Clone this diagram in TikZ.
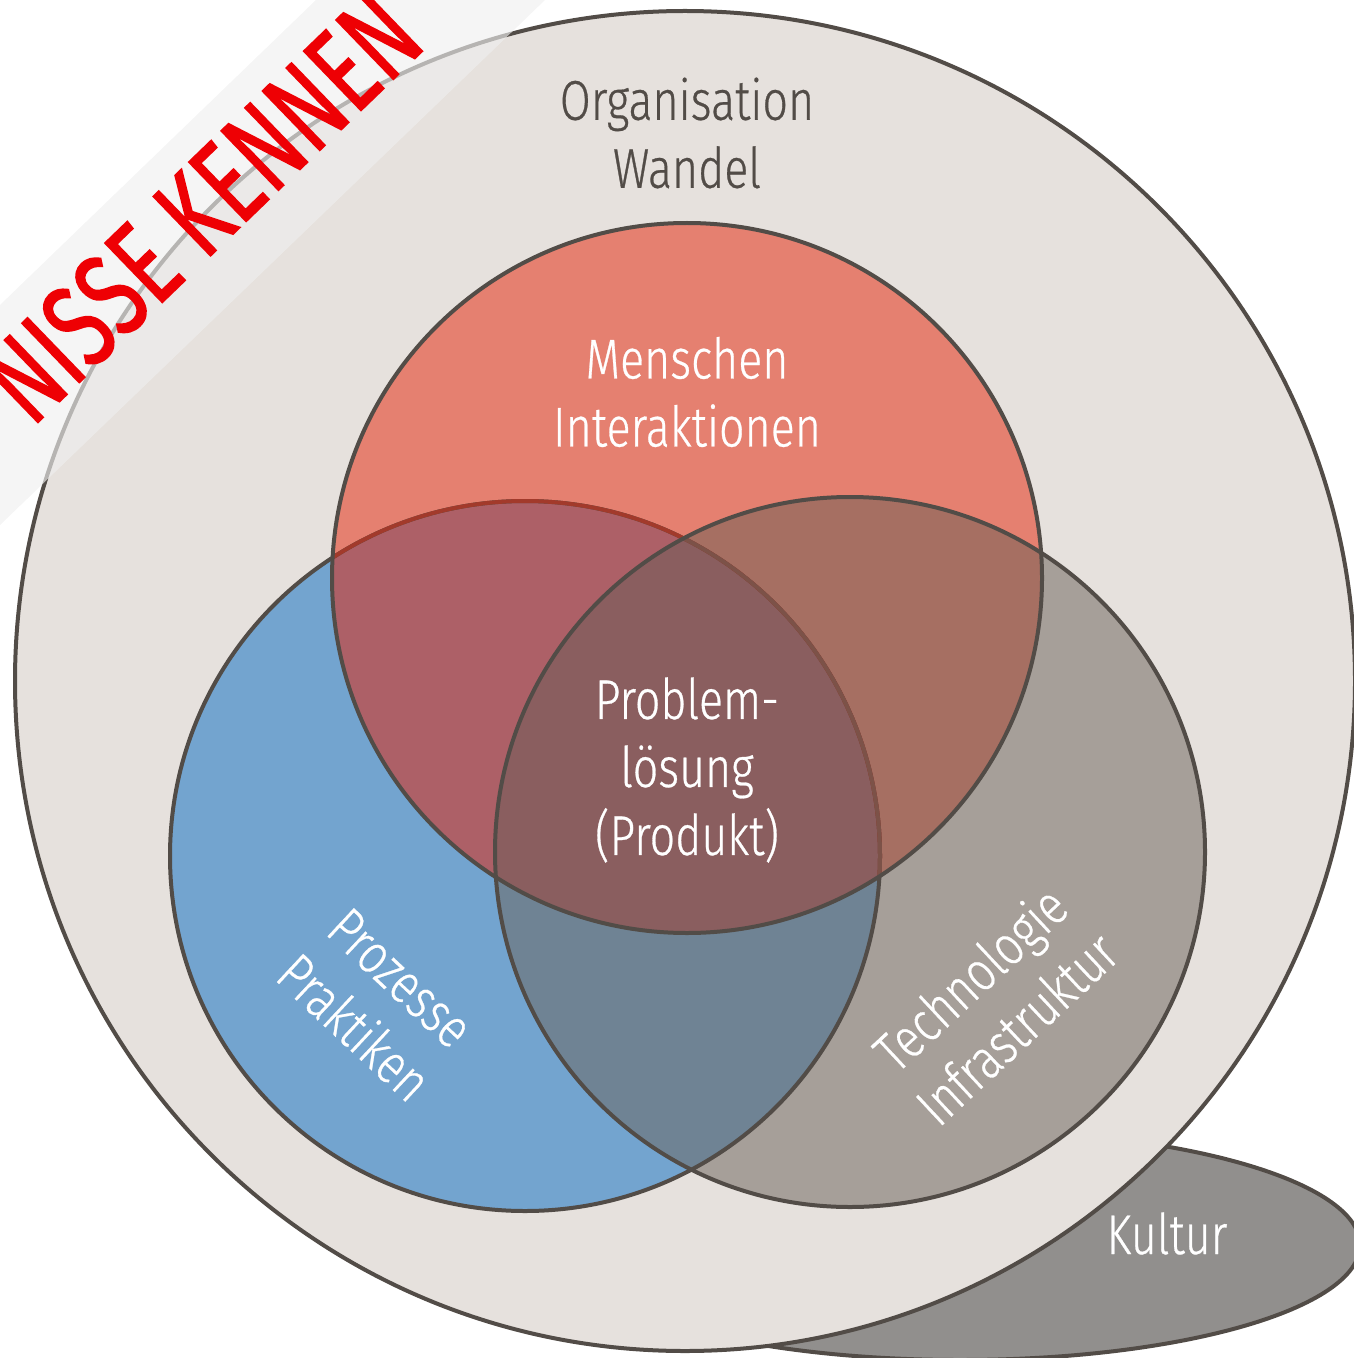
\documentclass[tikz,border=0pt]{standalone}
\usepackage{fontspec}
\setmainfont{Fira Sans}[UprightFont=* Light, FakeStretch=0.8, FakeBold=0.5]
\newfontfamily\bannerfont{Fira Sans}[FakeStretch=0.7, FakeBold=1.2]

\definecolor{rimline}{RGB}{82,76,71}
\definecolor{orgfill}{RGB}{230,225,221}
\definecolor{kulturfill}{RGB}{145,143,141}
\definecolor{menschfill}{RGB}{229,128,112}
\definecolor{prozessfill}{RGB}{115,164,207}
\definecolor{technikfill}{RGB}{166,159,153}
\definecolor{mpfill}{RGB}{173,96,103}
\definecolor{mtfill}{RGB}{166,111,98}
\definecolor{ptfill}{RGB}{111,131,148}
\definecolor{allfill}{RGB}{138,94,95}
\definecolor{mpline}{RGB}{162,58,43}
\definecolor{allline}{RGB}{124,82,72}
\definecolor{bannerfill}{RGB}{239,239,239}
\definecolor{bannertext}{RGB}{238,0,4}

\tikzset{every picture/.style={line width=3pt}}
\tikzset{
  ring/.style={draw=rimline},
  lbl/.style={text=white, align=center, inner sep=0pt, font=\fontsize{42}{51}\selectfont},
}

\begin{document}
\begin{tikzpicture}[x=0.75pt,y=0.75pt,yscale=-1,xscale=1]
\useasboundingbox (0,0) rectangle (1353,1358);

%Shape: Ellipse (Kultur)
\draw [ring, fill=kulturfill] (960,1245) ellipse (400 and 115);
%Shape: Circle (Organisation)
\draw [ring, fill=orgfill] (685,681) circle (670);

%Shape: Circle fills
\fill [prozessfill] (525,856) circle (355);
\fill [technikfill] (850,852) circle (355);
\fill [menschfill] (687,578) circle (355);
% overlaps
\begin{scope}
  \clip (687,578) circle (355);
  \fill [mpfill] (525,856) circle (355);
  \fill [mtfill] (850,852) circle (355);
  \clip (525,856) circle (355);
  \fill [allfill] (850,852) circle (355);
\end{scope}
\begin{scope}
  \clip (850,852) circle (355);
  \clip (525,856) circle (355);
  \fill [ptfill, even odd rule] (687,578) circle (355) (0,0) rectangle (1353,1358);
\end{scope}

%Shape: Circle outlines
\draw [ring] (525,856) circle (355);
\begin{scope}
  \clip (687,578) circle (355);
  \draw [mpline] (525,856) circle (355);
  \clip (850,852) circle (355);
  \draw [allline] (525,856) circle (355);
\end{scope}
\draw [ring] (687,578) circle (355);
\draw [ring] (850,852) circle (355);

% Text Node
\node [lbl, text=rimline] (org) at (687,133) {Organisation\\Wandel};
% Text Node
\node [lbl] (menschen) at (687,392) {Menschen\\Interaktionen};
% Text Node
\node [lbl] (problem) at (687,770) {Problem-\\lösung\\(Produkt)};
% Text Node
\node [lbl, rotate=-43] (prozesse) at (377,1003) {Prozesse\\Praktiken};
% Text Node
\node [lbl, rotate=43] (technik) at (993,1003) {Technologie\\Infrastruktur};
% Text Node
\node [lbl, anchor=base] (kultur) at (1167,1254) {Kultur};

%Shape: Banner
\fill [bannerfill, fill opacity=0.64] (0,305) -- (316,0) -- (545,0) -- (0,525) -- cycle;
% Text Node
\node [text=bannertext, inner sep=0pt, anchor=base east, rotate=44, font=\bannerfont\fontsize{90}{96}\selectfont] (banner) at (430,44) {NISSE KENNEN};

\end{tikzpicture}
\end{document}
